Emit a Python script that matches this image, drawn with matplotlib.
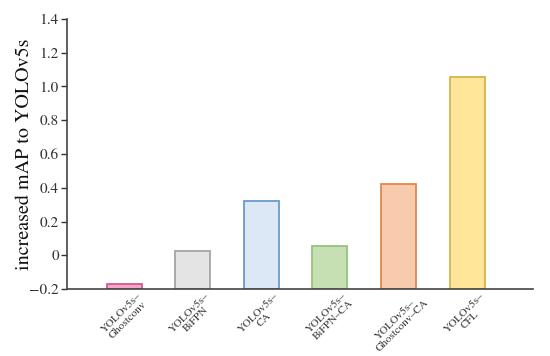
import matplotlib
matplotlib.use("Agg")
import matplotlib.pyplot as plt
from matplotlib.ticker import FuncFormatter

categories = ["YOLOv5s–\nGhostconv", "YOLOv5s–\nBiFPN", "YOLOv5s–\nCA",
              "YOLOv5s–\nBiFPN–CA", "YOLOv5s–\nGhostconv–CA", "YOLOv5s–\nCFL"]
values = [-0.17, 0.025, 0.32, 0.055, 0.425, 1.055]
fills = ["#F4A7C9", "#E4E4E4", "#DCE8F5", "#C6E0B4", "#F8CBAD", "#FFE699"]
edges = ["#D25A8E", "#A5A5A5", "#6A9ACB", "#93C47D", "#E0874F", "#D8B44A"]
base = -0.2

plt.rcParams['font.family'] = ['STIXGeneral', 'DejaVu Serif']
plt.rcParams['mathtext.fontset'] = 'stix'
fig = plt.figure(figsize=(5.5, 3.56), dpi=100)
ax = fig.add_axes([0.122, 0.188, 0.847, 0.759])

x = list(range(len(categories)))
heights = [v - base for v in values]
ax.bar(x, heights, bottom=base, width=0.51, color=fills, edgecolor=edges, linewidth=1.3, zorder=2)

ax.set_xlim(-0.83, 5.96)
ax.set_ylim(-0.2, 1.4)
ax.set_yticks([-0.2, 0, 0.2, 0.4, 0.6, 0.8, 1.0, 1.2, 1.4])
def fmt(v, pos):
    if abs(v) < 1e-9:
        return "0"
    s = f"{v:.1f}"
    return s.replace("-", "\u2212")
ax.yaxis.set_major_formatter(FuncFormatter(fmt))
ax.tick_params(axis='y', labelsize=11, direction='out', length=4, width=1, colors='#333333', labelcolor='#333333', pad=2)
ax.set_xticks(x)
ax.set_xticklabels(categories, rotation=45, ha='center', fontsize=8, linespacing=0.95, color='#333333')
ax.tick_params(axis='x', length=0, pad=1.5)

for s in ['top', 'right']:
    ax.spines[s].set_visible(False)
for s in ['left', 'bottom']:
    ax.spines[s].set_color('#444444')
    ax.spines[s].set_linewidth(1.2)
ax.spines['bottom'].set_zorder(3)

ax.set_ylabel("increased mAP to YOLOv5s", fontsize=14.5, color='#111111')
ax.yaxis.set_label_coords(-0.073, 0.5)

fig.savefig("out.png", dpi=100)
